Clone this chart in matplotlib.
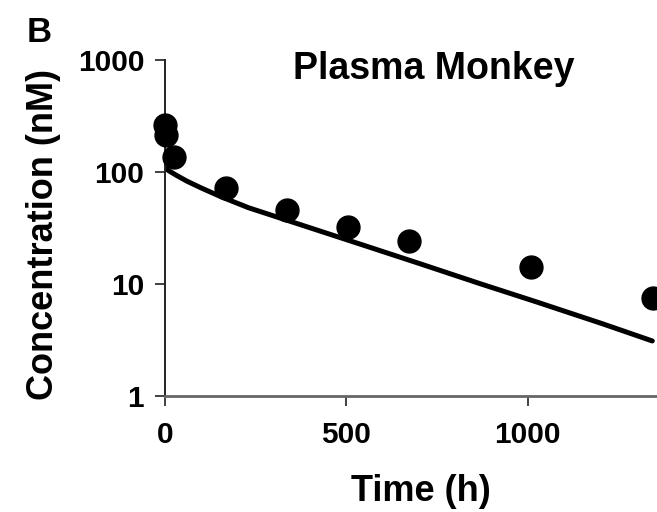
import matplotlib.pyplot as plt

plt.rcParams['font.family'] = ['Liberation Sans', 'DejaVu Sans']
plt.rcParams['font.weight'] = 'bold'

# observed plasma concentrations (nM)
obs_time = [1, 4, 24, 168, 336, 504, 672, 1008, 1344]
obs_conc = [263, 214, 136, 72, 46, 32, 24, 14.2, 7.5]

# model prediction
model_time = [0, 12, 30, 60, 100, 155, 230, 337, 536, 702, 867, 1025, 1207, 1343]
model_conc = [108, 102, 94, 83, 72, 60, 48, 37, 22.8, 15.2, 10.1, 6.9, 4.4, 3.1]

x_ticks = [0, 500, 1000]
y_ticks = [1, 10, 100, 1000]
y_tick_labels = ["1", "10", "100", "1000"]

fig = plt.figure(figsize=(6.57, 5.12), dpi=100)
ax = fig.add_axes([0.2511, 0.2266, 0.7489, 0.6562])

ax.plot(model_time, model_conc, color="black", lw=3.6, solid_capstyle="round",
        solid_joinstyle="round", zorder=2)
ax.plot(obs_time, obs_conc, "o", color="black", ms=16.5, zorder=3, clip_on=False)

ax.set_yscale("log")
ax.set_ylim(1, 1000)
ax.set_xlim(0, 1356)
ax.set_yticks(y_ticks)
ax.set_yticklabels(y_tick_labels)
ax.yaxis.set_minor_locator(plt.NullLocator())
ax.set_xticks(x_ticks)

for side in ["top", "right"]:
    ax.spines[side].set_visible(False)
ax.spines["left"].set_color("#222222")
ax.spines["left"].set_linewidth(1.4)
ax.spines["bottom"].set_color("#666666")
ax.spines["bottom"].set_linewidth(2.0)

ax.tick_params(axis="both", direction="out", length=7, width=1.3, color="#333333",
               labelsize=21.5)
ax.tick_params(axis="y", pad=8)
ax.tick_params(axis="x", pad=11)
for lbl in ax.get_xticklabels() + ax.get_yticklabels():
    lbl.set_fontweight("bold")

ax.set_xlabel("Time (h)", fontsize=26, fontweight="bold", labelpad=18)
ax.set_ylabel("Concentration (nM)", fontsize=26, fontweight="bold", labelpad=12)
ax.xaxis.label.set_x(0.52)
ax.yaxis.label.set_y(0.48)

fig.text(0.66, 0.845, "Plasma Monkey", fontsize=27, fontweight="bold", ha="center", va="baseline")
fig.text(0.040, 0.918, "B", fontsize=25, fontweight="bold", ha="left", va="baseline")

fig.savefig("out.png", dpi=100)
